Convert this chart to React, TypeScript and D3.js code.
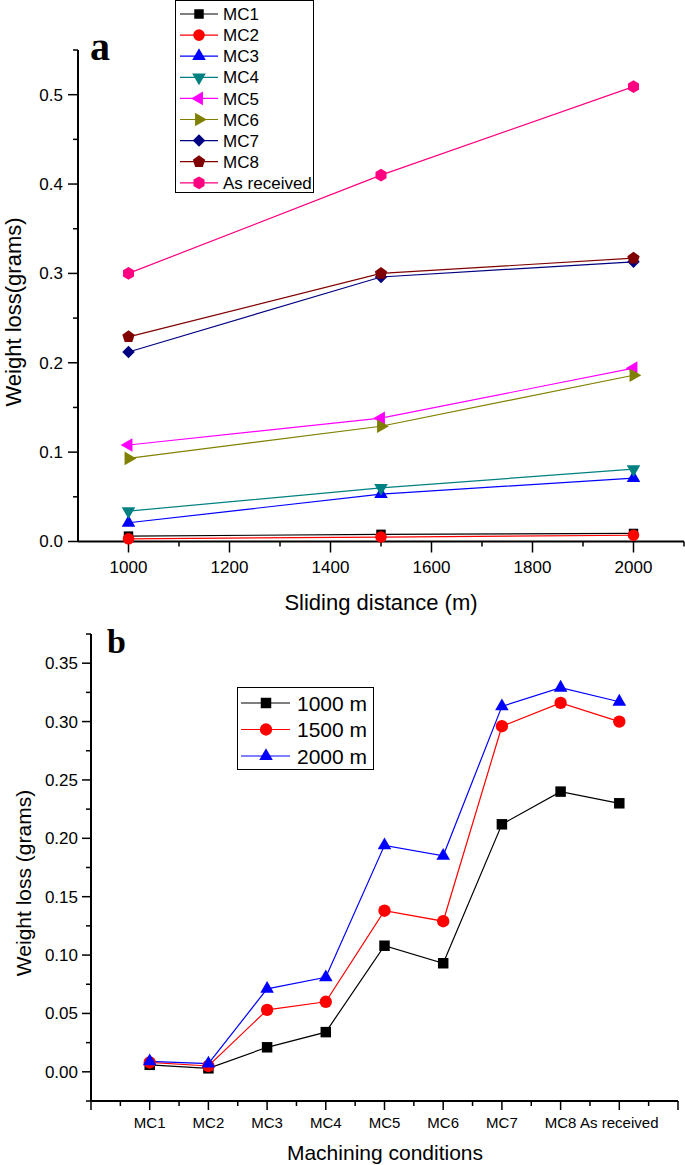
import { useEffect, useRef } from "react";
import * as d3 from "d3";

// panel a: weight loss vs sliding distance
const distances = [1000, 1500, 2000];
const conditions = ["MC1", "MC2", "MC3", "MC4", "MC5", "MC6", "MC7", "MC8", "As received"];
const mc1 = [0.006, 0.008, 0.009];
const mc2 = [0.003, 0.005, 0.007];
const mc3 = [0.021, 0.053, 0.071];
const mc4 = [0.034, 0.060, 0.081];
const mc5 = [0.108, 0.138, 0.194];
const mc6 = [0.093, 0.129, 0.186];
const mc7 = [0.212, 0.296, 0.313];
const mc8 = [0.229, 0.300, 0.317];
const asReceived = [0.300, 0.410, 0.509];
const colorsA = ["#000000", "#ff0000", "#0000ff", "#008080", "#ff00ff", "#808000", "#000080", "#800000", "#ff0080"];
const markersA = ["square", "circle", "up", "down", "left", "right", "diamond", "pentagon", "hexagon"];
const yTicksA = [0, 0.1, 0.2, 0.3, 0.4, 0.5];
const xTicksA = [1000, 1200, 1400, 1600, 1800, 2000];

// panel b: weight loss vs machining condition
const distLabels = ["1000 m", "1500 m", "2000 m"];
const loss1000 = [0.006, 0.003, 0.021, 0.034, 0.108, 0.093, 0.212, 0.240, 0.230];
const loss1500 = [0.008, 0.005, 0.053, 0.060, 0.138, 0.129, 0.296, 0.316, 0.300];
const loss2000 = [0.009, 0.007, 0.071, 0.081, 0.194, 0.185, 0.313, 0.329, 0.317];
const colorsB = ["#000000", "#ff0000", "#0000ff"];
const markersB = ["square", "circle", "up"];
const yTicksB = [0, 0.05, 0.1, 0.15, 0.2, 0.25, 0.3, 0.35];

const FONT = "'Liberation Sans', Arial, sans-serif";

const polygon = (n: number, rot: number) => ({
  draw(ctx: any, size: number) {
    const r = Math.sqrt((2 * size) / (n * Math.sin((2 * Math.PI) / n)));
    for (let k = 0; k < n; k++) {
      const a = rot + (2 * Math.PI * k) / n;
      const x = r * Math.sin(a);
      const y = -r * Math.cos(a);
      if (k) ctx.lineTo(x, y);
      else ctx.moveTo(x, y);
    }
    ctx.closePath();
  },
});

const shapes: any = {
  square: polygon(4, Math.PI / 4),
  circle: d3.symbolCircle,
  up: polygon(3, 0),
  down: polygon(3, Math.PI),
  left: polygon(3, -Math.PI / 2),
  right: polygon(3, Math.PI / 2),
  diamond: polygon(4, 0),
  pentagon: polygon(5, 0),
  hexagon: polygon(6, 0),
};
const sizesA: any = { square: 90, circle: 105, up: 80, down: 80, left: 80, right: 80, diamond: 78, pentagon: 100, hexagon: 105 };
const sizesB: any = { square: 110, circle: 120, up: 80 };

const App = () => {
  const svgRef = useRef<SVGSVGElement>(null);

  useEffect(() => {
    const svg = d3.select(svgRef.current);
    svg.selectAll("*").remove();

    // ---------- panel a ----------
    const seriesA = [mc1, mc2, mc3, mc4, mc5, mc6, mc7, mc8, asReceived];
    const xA = d3.scaleLinear().domain([900, 2100]).range([78, 684]);
    const yA = d3.scaleLinear().domain([0, 0.55]).range([541.5, 50]);
    const gA = svg.append("g");

    // y axis
    gA.append("line").attr("x1", 78).attr("x2", 78).attr("y1", yA(0.55)).attr("y2", yA(0))
      .attr("stroke", "#000").attr("stroke-width", 2);
    d3.range(0, 0.56, 0.05).forEach((v) => {
      const major = yTicksA.some((t) => Math.abs(t - v) < 1e-6);
      gA.append("line").attr("x1", 78).attr("x2", major ? 68 : 73).attr("y1", yA(v)).attr("y2", yA(v))
        .attr("stroke", "#000").attr("stroke-width", 1.5);
    });
    yTicksA.forEach((v) => {
      gA.append("text").attr("x", 63).attr("y", yA(v)).attr("dy", "0.35em").attr("text-anchor", "end")
        .attr("font-family", FONT).attr("font-size", 17).text(d3.format(".1f")(v));
    });
    // x axis
    gA.append("line").attr("x1", 78).attr("x2", 684).attr("y1", yA(0)).attr("y2", yA(0))
      .attr("stroke", "#000").attr("stroke-width", 2);
    d3.range(1000, 2101, 100).forEach((v) => {
      const major = xTicksA.includes(v);
      gA.append("line").attr("x1", xA(v)).attr("x2", xA(v)).attr("y1", yA(0)).attr("y2", yA(0) + (major ? 11 : 5))
        .attr("stroke", "#000").attr("stroke-width", 1.5);
    });
    xTicksA.forEach((v) => {
      gA.append("text").attr("x", xA(v)).attr("y", 573).attr("text-anchor", "middle")
        .attr("font-family", FONT).attr("font-size", 17).text(v);
    });
    gA.append("text").attr("x", 381).attr("y", 610).attr("text-anchor", "middle")
      .attr("font-family", FONT).attr("font-size", 22).text("Sliding distance (m)");
    gA.append("text").attr("transform", "translate(21,312) rotate(-90)").attr("text-anchor", "middle")
      .attr("font-family", FONT).attr("font-size", 22).text("Weight loss(grams)");
    gA.append("text").attr("x", 90).attr("y", 60).attr("font-family", "'Times New Roman', 'Liberation Serif', serif")
      .attr("font-weight", "bold").attr("font-size", 40).text("a");

    const lineA = d3.line<number>().x((_, i) => xA(distances[i])).y((d) => yA(d));
    seriesA.forEach((s, k) => {
      gA.append("path").attr("d", lineA(s)).attr("fill", "none").attr("stroke", colorsA[k]).attr("stroke-width", 1.2);
    });
    seriesA.forEach((s, k) => {
      const m = markersA[k];
      const sym = d3.symbol().type(shapes[m]).size(sizesA[m]);
      gA.append("g").selectAll("path").data(s).join("path")
        .attr("transform", (d, i) => `translate(${xA(distances[i])},${yA(d)})`)
        .attr("d", sym()).attr("fill", colorsA[k]);
    });

    // legend a
    const legA = gA.append("g");
    legA.append("rect").attr("x", 175.5).attr("y", 0.5).attr("width", 138).attr("height", 192)
      .attr("fill", "#fff").attr("stroke", "#000").attr("stroke-width", 1);
    conditions.forEach((name, k) => {
      const y = 14 + k * 21.1;
      const m = markersA[k];
      legA.append("line").attr("x1", 180).attr("x2", 218).attr("y1", y).attr("y2", y)
        .attr("stroke", colorsA[k]).attr("stroke-width", 1.2);
      legA.append("path").attr("transform", `translate(199,${y})`)
        .attr("d", d3.symbol().type(shapes[m]).size(sizesA[m])()).attr("fill", colorsA[k]);
      legA.append("text").attr("x", 223).attr("y", y).attr("dy", "0.36em")
        .attr("font-family", FONT).attr("font-size", 17).text(name);
    });

    // ---------- panel b ----------
    const seriesB = [loss1000, loss1500, loss2000];
    const xB = d3.scaleLinear().domain([0, 10]).range([91, 678]);
    const yB = d3.scaleLinear().domain([-0.025, 0.375]).range([1101, 634]);
    const gB = svg.append("g");

    gB.append("line").attr("x1", 91).attr("x2", 91).attr("y1", yB(0.375)).attr("y2", yB(-0.025))
      .attr("stroke", "#000").attr("stroke-width", 2);
    d3.range(-0.025, 0.38, 0.025).forEach((v) => {
      const major = yTicksB.some((t) => Math.abs(t - v) < 1e-6);
      gB.append("line").attr("x1", 91).attr("x2", major ? 82 : 86).attr("y1", yB(v)).attr("y2", yB(v))
        .attr("stroke", "#000").attr("stroke-width", 1.5);
    });
    yTicksB.forEach((v) => {
      gB.append("text").attr("x", 78).attr("y", yB(v)).attr("dy", "0.35em").attr("text-anchor", "end")
        .attr("font-family", FONT).attr("font-size", 17).text(d3.format(".2f")(v));
    });
    gB.append("line").attr("x1", 91).attr("x2", 678).attr("y1", yB(-0.025)).attr("y2", yB(-0.025))
      .attr("stroke", "#000").attr("stroke-width", 2);
    d3.range(0, 10.01, 0.5).forEach((v) => {
      const major = Number.isInteger(v);
      gB.append("line").attr("x1", xB(v)).attr("x2", xB(v)).attr("y1", yB(-0.025)).attr("y2", yB(-0.025) + (major ? 9 : 5))
        .attr("stroke", "#000").attr("stroke-width", 1.5);
    });
    conditions.forEach((name, i) => {
      gB.append("text").attr("x", xB(i + 1)).attr("y", 1128).attr("text-anchor", "middle")
        .attr("font-family", "'Liberation Sans Narrow', 'Arial Narrow', " + FONT).attr("font-size", 15).text(name);
    });
    gB.append("text").attr("x", 385).attr("y", 1160).attr("text-anchor", "middle")
      .attr("font-family", FONT).attr("font-size", 21).text("Machining conditions");
    gB.append("text").attr("transform", "translate(31,883) rotate(-90)").attr("text-anchor", "middle")
      .attr("font-family", FONT).attr("font-size", 21).text("Weight loss (grams)");
    gB.append("text").attr("x", 107).attr("y", 653).attr("font-family", "'Times New Roman', 'Liberation Serif', serif")
      .attr("font-weight", "bold").attr("font-size", 34).text("b");

    const lineB = d3.line<number>().x((_, i) => xB(i + 1)).y((d) => yB(d));
    seriesB.forEach((s, k) => {
      gB.append("path").attr("d", lineB(s)).attr("fill", "none").attr("stroke", colorsB[k]).attr("stroke-width", 1.2);
    });
    seriesB.forEach((s, k) => {
      const m = markersB[k];
      const sym = d3.symbol().type(shapes[m]).size(sizesB[m]);
      gB.append("g").selectAll("path").data(s).join("path")
        .attr("transform", (d, i) => `translate(${xB(i + 1)},${yB(d)})`)
        .attr("d", sym()).attr("fill", colorsB[k]);
    });

    const legB = gB.append("g");
    legB.append("rect").attr("x", 237.5).attr("y", 687.5).attr("width", 136).attr("height", 82)
      .attr("fill", "#fff").attr("stroke", "#000").attr("stroke-width", 1);
    distLabels.forEach((name, k) => {
      const y = 703 + k * 26.5;
      const m = markersB[k];
      legB.append("line").attr("x1", 241).attr("x2", 290).attr("y1", y).attr("y2", y)
        .attr("stroke", colorsB[k]).attr("stroke-width", 1.2);
      legB.append("path").attr("transform", `translate(266,${y})`)
        .attr("d", d3.symbol().type(shapes[m]).size(sizesB[m])()).attr("fill", colorsB[k]);
      legB.append("text").attr("x", 297).attr("y", y).attr("dy", "0.36em")
        .attr("font-family", FONT).attr("font-size", 21).text(name);
    });
  }, []);

  return (
    <svg ref={svgRef} width={685} height={1165}
      style={{ position: "absolute", left: 0, top: 0, background: "#fff" }} />
  );
};

export default App;
